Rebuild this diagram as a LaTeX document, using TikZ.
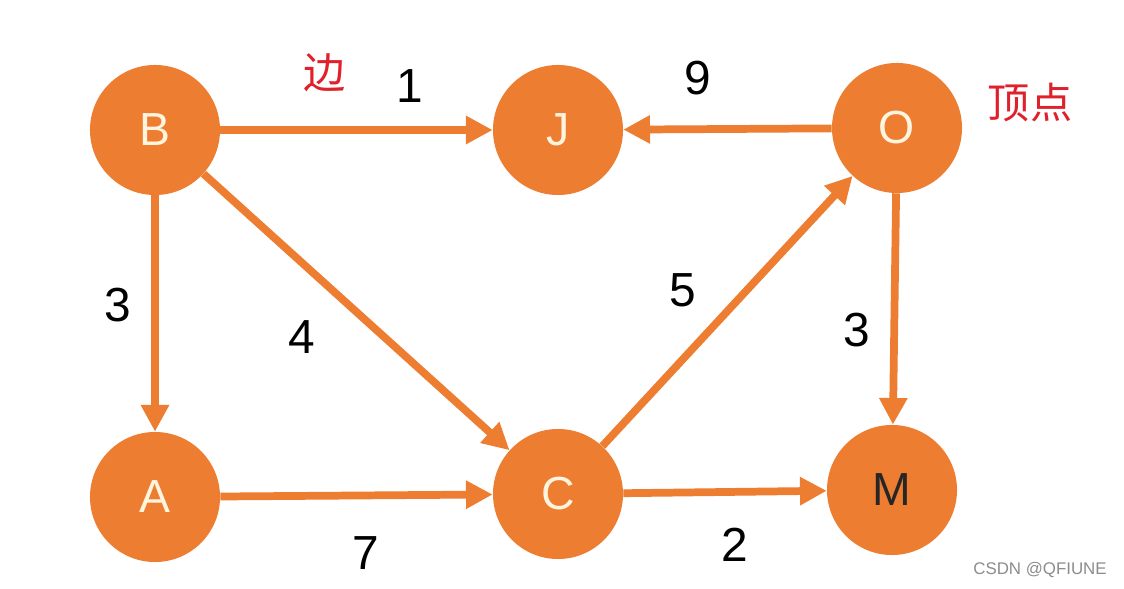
\documentclass[tikz,border=0pt]{standalone}
\usepackage{fontspec}
\setmainfont{Liberation Sans}
\newfontfamily\cjk{Noto Sans CJK SC}
\usetikzlibrary{arrows.meta}
\definecolor{vorange}{HTML}{ED7D31}
\definecolor{vcream}{HTML}{FFF4DE}
\definecolor{vred}{HTML}{E0202A}

\begin{document}
\begin{tikzpicture}[x=0.025cm,y=-0.025cm,
 vertex/.style={circle,fill=vorange,inner sep=0pt,minimum size=3.25cm,
   text=vcream,font=\fontsize{33}{36}\selectfont},
 weight/.style={font=\fontsize{34}{38}\selectfont},
 note/.style={text=vred,font=\cjk\fontsize{30}{34}\selectfont},
 arr/.style={draw=vorange,line width=5.5pt,-{Triangle[length=19pt,width=19pt]}}]
\useasboundingbox (0,0) rectangle (1124,589);
\node[vertex] (B) at (155,130) {B};
\node[vertex] (J) at (558,130) {J};
\node[vertex] (O) at (897,128) {O};
\node[vertex] (A) at (155,497) {A};
\node[vertex] (C) at (558,494) {C};
\node[vertex,text=black!85] (M) at (892,490) {M};
\draw[arr] (B) -- (J);
\draw[arr] (O) -- (J);
\draw[arr] (B) -- (A);
\draw[arr] (B) -- (C);
\draw[arr] (A) -- (C);
\draw[arr] (C) -- (M);
\draw[arr] (C) -- (O);
\draw[arr] (O) -- (M);
\node[weight] (w1) at (410,86) {1};
\node[weight] (w9) at (698,78) {9};
\node[weight] (w3a) at (118,305) {3};
\node[weight] (w4) at (302,337) {4};
\node[weight] (w5) at (683,290) {5};
\node[weight] (w3b) at (857,330) {3};
\node[weight] (w7) at (366,553) {7};
\node[weight] (w2) at (735,545) {2};
\node[note] (edge) at (325,73) {边};
\node[note] (vert) at (1030,103) {顶点};
\node[text=black!45,font=\fontsize{12}{14}\selectfont] (mark) at (1040,570) {CSDN @QFIUNE};
\end{tikzpicture}
\end{document}
